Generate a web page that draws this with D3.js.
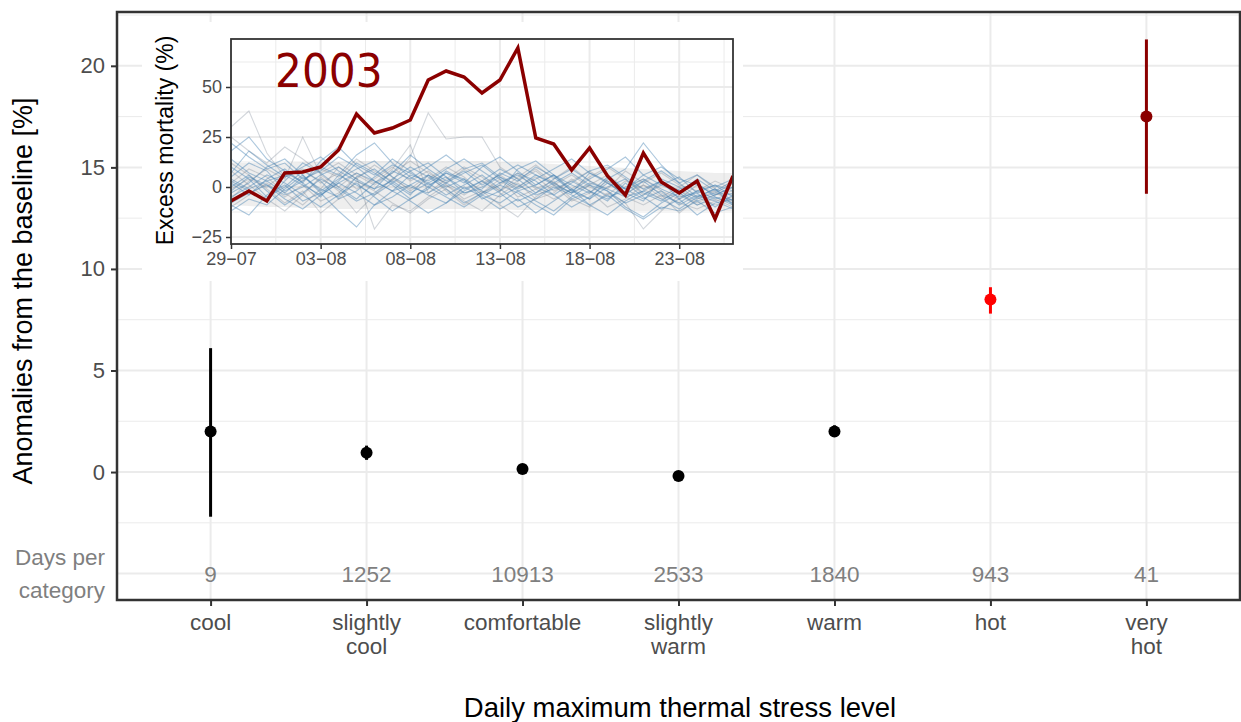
<!DOCTYPE html>
<html>
<head>
<meta charset="utf-8">
<script src="https://cdn.jsdelivr.net/npm/d3@7"></script>
<style>
  body { margin: 0; background: #fff; }
  text { font-family: "Liberation Sans", Arial, sans-serif; }
</style>
</head>
<body>
<div id="chart"></div>
<script>
// main panel data
const categories = ["cool", "slightly cool", "comfortable", "slightly warm", "warm", "hot", "very hot"];
const anomaly = [2.0, 0.95, 0.15, -0.2, 2.0, 8.5, 17.5];
const anomaly_low = [-2.2, 0.6, 0.0, -0.4, 1.75, 7.8, 13.7];
const anomaly_high = [6.1, 1.3, 0.3, 0.0, 2.3, 9.1, 21.3];
const days_per_category = [9, 1252, 10913, 2533, 1840, 943, 41];
const point_colors = ["#000", "#000", "#000", "#000", "#000", "#ff0000", "#8b0000"];
const y_ticks = [0, 5, 10, 15, 20];

// inset data: daily excess mortality 29-07 .. 26-08
const start_day = new Date(2003, 6, 29);
const series_2003 = [-7, -2, -7, 7, 7.5, 10, 18.5, 36.5, 27, 29.5, 33.5, 53.5, 58, 55, 47, 53.5,
  69.5, 24.5, 21.5, 8.5, 19.5, 5.5, -4, 17, 2.5, -3, 3, -16, 5.5];
const band_upper = [12, 12, 12, 12, 12.5, 12.5, 12.5, 13, 13, 13, 13, 13, 13, 13, 13, 12.5,
  12.5, 12, 11.5, 11, 10.5, 10, 9.5, 9, 8.5, 8, 7.5, 7, 7];
const band_lower = [-9, -9.5, -10, -10, -10.5, -10.5, -11, -11, -11, -11, -11, -11, -11, -11,
  -11, -11, -11.5, -11.5, -12, -12, -12, -12, -12, -12, -12, -12, -12, -12, -12];
const other_years_blue = [
  [5, 12, 8, -2, 3, 10, 6, 1, -4, 2, 8, 12, 5, -1, 3, 9, 4, -3, 2, 7, 1, -5, -2, 3, -4, -8, -2, -6, -3],
  [-3, 2, 10, 14, 6, -2, 4, 9, 13, 5, 0, -3, 2, 7, 11, 4, -2, 1, 6, -1, -6, 0, 4, -3, -7, -1, 2, -5, -9],
  [10, 4, -5, 0, 8, 3, -6, -2, 5, 11, 7, 2, -4, 1, 6, -1, -7, -3, 4, 9, 3, -2, -8, -4, 1, 5, -3, -10, -4],
  [22, 15, 9, 12, 4, 8, 15, 10, 3, -2, 6, 3, 9, 14, 8, 2, 6, 0, -4, 2, 8, 11, 5, -1, 3, -6, -2, 1, -5],
  [-8, -3, 1, -6, -11, -4, 2, -3, -9, -5, 1, -4, -8, -2, 3, -3, -10, -6, 0, -4, -9, -14, -7, -2, -6, -11, -5, -1, -7],
  [2, -4, 4, 9, 2, 13, 20, 11, 6, 14, 8, 1, 5, -3, -1, 7, 3, 10, 5, -2, 4, 9, 15, 6, 1, -3, 4, -2, 3],
  [14, 7, 3, -3, 5, -1, -5, 5, 9, 2, -4, 6, 0, 4, -6, -2, 9, 13, 6, 1, -3, 5, -1, -6, -2, -9, -4, -7, -11],
  [0, 6, -2, -9, -3, 4, -1, -7, -3, 4, 10, 5, -1, -8, -3, 2, 7, 3, -4, -10, -5, 2, -3, -7, 4, 0, -6, -3, 2],
  [-12, -6, -9, -1, 6, -3, 3, 12, 7, 1, -6, -1, 8, 3, -4, -8, -2, -7, -12, -5, 1, -2, -10, -15, -8, -3, -9, -5, -8],
  [7, 18, 11, 5, 10, 15, 8, 3, -1, 8, 4, 10, 16, 9, 12, 5, -1, 4, 9, 14, 7, 3, -1, 6, 10, 4, 1, -4, 0],
  [-5, 0, 6, 2, -4, -10, -4, 2, -5, -12, -6, 0, -5, -10, -4, 1, -3, -9, -14, -6, -2, -7, 2, -5, -11, -6, -14, -8, -6],
  [3, -2, -7, 3, 12, 7, 0, -6, 2, 7, 16, 9, 3, 8, 1, 6, 11, 6, 1, -3, 7, 2, -4, 3, 8, 2, -5, -1, -9],
  [18, 25, 14, 8, 2, -5, 6, 16, 22, 12, 5, 0, 7, 2, 10, 15, 8, 1, 6, -2, -6, 4, 9, 22, 11, 2, 6, 0, 4],
  [-9, -14, -4, 1, -7, -3, -12, -20, -9, -2, -7, -13, -8, 0, -5, -11, -6, -13, -7, -1, -9, -4, -11, -16, -10, -12, -7, -13, -10],
  [4, -1, 3, 6, 1, -4, 2, 7, 3, -2, 1, 6, 2, -3, 0, 5, 1, -4, -1, 3, -2, -6, 0, 4, -1, -5, -3, 1, -2],
  [-2, 5, 1, -4, 0, 6, 10, 4, -1, 3, -3, 2, 7, 4, -2, -5, 0, 6, 2, -3, 2, -1, -5, -2, 3, -2, -7, -4, 0]
];
const other_years_grey = [
  [30, 38, 17, 5, 9, 2, 7, -1, 4, 10, 3, 8, 1, -4, 2, 6, 0, 5, -2, 3, 8, 2, -3, 1, -5, 0, 6, -1, -4],
  [-1, 4, 0, 7, 3, 9, 5, 14, 8, 3, 15, 37, 24, 25, 25, 10, 4, 9, 2, -3, 1, 6, -1, 4, -2, -6, 1, -3, -7],
  [8, 1, -6, -12, -4, 5, -2, -13, -4, 4, -1, 6, -2, -9, -3, 4, -5, -1, 3, -6, -10, -3, -8, -21, -12, -4, -9, -6, -10],
  [-6, 3, 9, 4, 25, 6, 0, 7, 2, 9, 21, -3, 4, 10, 5, -2, 3, 8, 1, 6, 0, -4, 3, -1, -6, -3, -8, -4, -2],
  [12, 6, -1, -8, -2, -13, -6, 3, -2, -8, -13, -6, -1, -7, -12, -4, 2, -6, -3, 4, -2, -10, -6, 1, -3, -8, -11, -7, -5],
  [2, 9, 5, -3, -9, -1, 10, 4, 11, 5, -2, 4, 10, 5, -3, 1, 7, -1, -6, -1, 5, 10, 4, -4, 2, -2, -5, -9, -6],
  [-10, -4, 2, -5, 1, -7, -3, 5, -21, -9, -12, -5, 1, -6, -2, -9, -15, -5, 1, -7, -3, 3, -5, -9, -4, -13, -6, -2, -8],
  [25, 18, 12, 20, 14, 7, 12, 6, 1, 7, 13, 7, 2, 9, 3, -2, 5, 11, 4, 10, 3, -1, 8, 2, 7, 1, -2, 3, -1]
];
const inset_y_ticks = [-25, 0, 25, 50];

const svgWidth = 1241, svgHeight = 722;
const panel = { left: 117, right: 1240, top: 12, bottom: 600 };
const inset = { left: 231, right: 733, top: 39, bottom: 244 };
const grid_color = "#ebebeb";

let svg = d3.select("#chart")
  .append("svg")
  .attr("width", svgWidth)
  .attr("height", svgHeight);

let x = d3.scalePoint()
  .domain(categories)
  .range([panel.left, panel.right])
  .padding(0.6);
let y = d3.scaleLinear()
  .domain([-6.3, 22.65])
  .range([panel.bottom, panel.top]);

draw_main_grid();
draw_main_marks();
draw_inset();
draw_main_axes();

function draw_main_grid() {
  let g = svg.append("g");
  let minor = d3.range(-2.5, 22.6, 5);
  g.selectAll(".minor")
    .data(minor)
    .enter()
    .append("line")
    .attr("x1", panel.left).attr("x2", panel.right)
    .attr("y1", d => y(d)).attr("y2", d => y(d))
    .attr("stroke", grid_color).attr("stroke-width", 1);
  g.selectAll(".major")
    .data([-5].concat(y_ticks))
    .enter()
    .append("line")
    .attr("x1", panel.left).attr("x2", panel.right)
    .attr("y1", d => y(d)).attr("y2", d => y(d))
    .attr("stroke", grid_color).attr("stroke-width", 2);
  g.selectAll(".vert")
    .data(categories)
    .enter()
    .append("line")
    .attr("x1", d => x(d)).attr("x2", d => x(d))
    .attr("y1", panel.top).attr("y2", panel.bottom)
    .attr("stroke", grid_color).attr("stroke-width", 2);
}

function draw_main_marks() {
  let g = svg.append("g");
  g.selectAll(".err")
    .data(categories)
    .enter()
    .append("line")
    .attr("x1", d => x(d)).attr("x2", d => x(d))
    .attr("y1", (d, i) => y(anomaly_low[i]))
    .attr("y2", (d, i) => y(anomaly_high[i]))
    .attr("stroke", (d, i) => point_colors[i])
    .attr("stroke-width", 3);
  g.selectAll(".pt")
    .data(categories)
    .enter()
    .append("circle")
    .attr("cx", d => x(d))
    .attr("cy", (d, i) => y(anomaly[i]))
    .attr("r", 6)
    .attr("fill", (d, i) => point_colors[i]);
  // day counts row
  g.selectAll(".days")
    .data(categories)
    .enter()
    .append("text")
    .attr("x", d => x(d))
    .attr("y", y(-5))
    .attr("dy", "0.36em")
    .attr("text-anchor", "middle")
    .attr("fill", "#7f7f7f")
    .style("font-size", "22.5px")
    .text((d, i) => days_per_category[i]);
  let lab = svg.append("text")
    .attr("text-anchor", "end")
    .attr("fill", "#7f7f7f")
    .style("font-size", "22.5px");
  lab.append("tspan").attr("x", 105).attr("y", 565).text("Days per");
  lab.append("tspan").attr("x", 105).attr("y", 598).text("category");
}

function draw_main_axes() {
  svg.append("rect")
    .attr("x", panel.left).attr("y", panel.top)
    .attr("width", panel.right - panel.left)
    .attr("height", panel.bottom - panel.top)
    .attr("fill", "none")
    .attr("stroke", "#333")
    .attr("stroke-width", 2.5);

  let y_axis = svg.append("g")
    .attr("transform", `translate(${panel.left}, 0)`)
    .call(d3.axisLeft(y).tickValues(y_ticks).tickSize(6).tickPadding(6));
  y_axis.select(".domain").remove();
  y_axis.selectAll("line").attr("stroke", "#333").attr("stroke-width", 2);
  y_axis.selectAll("text")
    .attr("fill", "#4d4d4d")
    .style("font-size", "22px")
    .style("font-family", "Liberation Sans, Arial, sans-serif");

  let x_axis = svg.append("g")
    .attr("transform", `translate(0, ${panel.bottom})`)
    .call(d3.axisBottom(x).tickSize(6).tickFormat(""));
  x_axis.select(".domain").remove();
  x_axis.selectAll("line").attr("stroke", "#333").attr("stroke-width", 2);

  // two-line category labels
  svg.append("g")
    .selectAll("text")
    .data(categories)
    .enter()
    .append("text")
    .attr("text-anchor", "middle")
    .attr("fill", "#4d4d4d")
    .style("font-size", "22.5px")
    .each(function (d) {
      let words = d.split(" ");
      d3.select(this).selectAll("tspan")
        .data(words)
        .enter()
        .append("tspan")
        .attr("x", x(d))
        .attr("y", (w, j) => 630 + j * 24)
        .text(w => w);
    });

  svg.append("text")
    .attr("x", 680).attr("y", 717)
    .attr("text-anchor", "middle")
    .attr("fill", "#000")
    .style("font-size", "27.5px")
    .text("Daily maximum thermal stress level");

  svg.append("text")
    .attr("transform", "translate(32, 291) rotate(-90)")
    .attr("text-anchor", "middle")
    .attr("fill", "#000")
    .style("font-size", "27px")
    .text("Anomalies from the baseline [%]");
}

function draw_inset() {
  let dates = series_2003.map((v, i) => d3.timeDay.offset(start_day, i));
  let ix = d3.scaleTime()
    .domain([dates[0], dates[dates.length - 1]])
    .range([inset.left, inset.right]);
  let iy = d3.scaleLinear()
    .domain([-28.5, 74])
    .range([inset.bottom, inset.top]);

  let g = svg.append("g");
  // white background hides the main grid behind the inset
  g.append("rect")
    .attr("x", 142).attr("y", 22)
    .attr("width", 601).attr("height", 259)
    .attr("fill", "#fff");

  svg.append("clipPath").attr("id", "inset_clip")
    .append("rect")
    .attr("x", inset.left).attr("y", inset.top)
    .attr("width", inset.right - inset.left)
    .attr("height", inset.bottom - inset.top);

  let inner = g.append("g").attr("clip-path", "url(#inset_clip)");
  let x_major = dates.filter((d, i) => i % 5 === 0);
  let x_minor = d3.range(2.5, dates.length + 2, 5).map(k => d3.timeHour.offset(start_day, k * 24));
  let y_minor = [-12.5, 12.5, 37.5, 62.5];

  inner.selectAll(".hminor").data(y_minor).enter().append("line")
    .attr("x1", inset.left).attr("x2", inset.right)
    .attr("y1", d => iy(d)).attr("y2", d => iy(d))
    .attr("stroke", grid_color).attr("stroke-width", 1);
  inner.selectAll(".vminor").data(x_minor).enter().append("line")
    .attr("x1", d => ix(d)).attr("x2", d => ix(d))
    .attr("y1", inset.top).attr("y2", inset.bottom)
    .attr("stroke", grid_color).attr("stroke-width", 1);
  inner.selectAll(".hmajor").data(inset_y_ticks).enter().append("line")
    .attr("x1", inset.left).attr("x2", inset.right)
    .attr("y1", d => iy(d)).attr("y2", d => iy(d))
    .attr("stroke", grid_color).attr("stroke-width", 2);
  inner.selectAll(".vmajor").data(x_major).enter().append("line")
    .attr("x1", d => ix(d)).attr("x2", d => ix(d))
    .attr("y1", inset.top).attr("y2", inset.bottom)
    .attr("stroke", grid_color).attr("stroke-width", 2);

  // grey envelope of the other years
  let band = d3.area()
    .x((d, i) => ix(dates[i]))
    .y0((d, i) => iy(band_lower[i]))
    .y1(d => iy(d));
  inner.append("path")
    .datum(band_upper)
    .attr("d", band)
    .attr("fill", "#c8c8c8")
    .attr("opacity", 0.3);

  let line = d3.line()
    .x((d, i) => ix(dates[i]))
    .y(d => iy(d));
  inner.selectAll(".grey_year").data(other_years_grey).enter().append("path")
    .attr("d", line)
    .attr("fill", "none")
    .attr("stroke", "#6e7b8b")
    .attr("stroke-opacity", 0.3)
    .attr("stroke-width", 1.1);
  inner.selectAll(".blue_year").data(other_years_blue).enter().append("path")
    .attr("d", line)
    .attr("fill", "none")
    .attr("stroke", "#4682b4")
    .attr("stroke-opacity", 0.45)
    .attr("stroke-width", 1.1);
  inner.append("path")
    .datum(series_2003)
    .attr("d", line)
    .attr("fill", "none")
    .attr("stroke", "#8b0000")
    .attr("stroke-width", 3.5)
    .attr("stroke-linejoin", "miter");

  g.append("text")
    .attr("x", 275).attr("y", 87)
    .attr("fill", "#8b0000")
    .style("font-family", "DejaVu Sans Condensed, DejaVu Sans, sans-serif")
    .style("font-size", "47px")
    .text("2003");

  g.append("rect")
    .attr("x", inset.left).attr("y", inset.top)
    .attr("width", inset.right - inset.left)
    .attr("height", inset.bottom - inset.top)
    .attr("fill", "none")
    .attr("stroke", "#333")
    .attr("stroke-width", 1.8);

  let iy_axis = g.append("g")
    .attr("transform", `translate(${inset.left}, 0)`)
    .call(d3.axisLeft(iy).tickValues(inset_y_ticks).tickSize(5).tickPadding(4));
  iy_axis.select(".domain").remove();
  iy_axis.selectAll("line").attr("stroke", "#333").attr("stroke-width", 1.5);
  iy_axis.selectAll("text")
    .attr("fill", "#4d4d4d")
    .style("font-size", "18px")
    .style("font-family", "Liberation Sans, Arial, sans-serif")
    .text(d => d < 0 ? "\u2212" + Math.abs(d) : d);

  let ix_axis = g.append("g")
    .attr("transform", `translate(0, ${inset.bottom})`)
    .call(d3.axisBottom(ix).tickValues(x_major).tickSize(5).tickPadding(3)
      .tickFormat(d3.timeFormat("%d\u2212%m")));
  ix_axis.select(".domain").remove();
  ix_axis.selectAll("line").attr("stroke", "#333").attr("stroke-width", 1.5);
  ix_axis.selectAll("text")
    .attr("fill", "#4d4d4d")
    .style("font-size", "18px")
    .style("font-family", "Liberation Sans, Arial, sans-serif");

  g.append("text")
    .attr("transform", `translate(173, ${(inset.top + inset.bottom) / 2 - 1}) rotate(-90)`)
    .attr("text-anchor", "middle")
    .attr("fill", "#000")
    .style("font-size", "23px")
    .text("Excess mortality (%)");
}
</script>
</body>
</html>
